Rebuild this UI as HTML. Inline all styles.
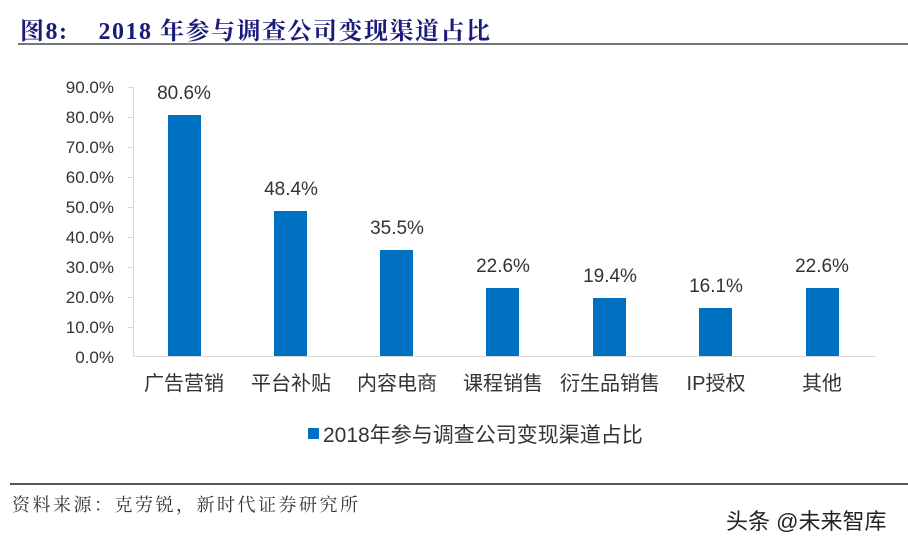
<!DOCTYPE html>
<html><head><meta charset="utf-8"><style>
body{margin:0;background:#fff;width:908px;height:545px;overflow:hidden;position:relative}
.t{position:absolute;white-space:nowrap}
</style></head><body>
<div class="t" style="left:20px;top:11px;font:bold 24px 'Liberation Serif','Noto Serif CJK SC',serif;color:#1a1a7a;letter-spacing:1.5px">图8:&nbsp;&nbsp;&nbsp; 2018 年参与调查公司变现渠道占比</div>
<div style="position:absolute;left:18px;top:43px;width:890px;height:2px;background:#777"></div>
<svg style="position:absolute;left:0;top:0" width="908" height="545" font-family="Liberation Sans, Noto Sans CJK SC, sans-serif">
<g font-size="17" fill="#333" text-anchor="end">
<text x="114" y="93">90.0%</text><text x="114" y="123">80.0%</text><text x="114" y="153">70.0%</text><text x="114" y="183">60.0%</text><text x="114" y="213">50.0%</text><text x="114" y="243">40.0%</text><text x="114" y="273">30.0%</text><text x="114" y="303">20.0%</text><text x="114" y="333">10.0%</text><text x="114" y="363">0.0%</text>
</g>
<g stroke="#d9d9d9" stroke-width="1">
<line x1="133.5" y1="87" x2="133.5" y2="356"/><line x1="133" y1="356.5" x2="876" y2="356.5"/>
<line x1="128" y1="87.5" x2="133" y2="87.5"/><line x1="128" y1="117.5" x2="133" y2="117.5"/><line x1="128" y1="147.5" x2="133" y2="147.5"/><line x1="128" y1="177.5" x2="133" y2="177.5"/><line x1="128" y1="207.5" x2="133" y2="207.5"/><line x1="128" y1="237.5" x2="133" y2="237.5"/><line x1="128" y1="267.5" x2="133" y2="267.5"/><line x1="128" y1="297.5" x2="133" y2="297.5"/><line x1="128" y1="327.5" x2="133" y2="327.5"/>
</g>
<g fill="#0070c0">
<rect x="168" y="115" width="33" height="241"/>
<rect x="274" y="211" width="33" height="145"/>
<rect x="380" y="250" width="33" height="106"/>
<rect x="486" y="288" width="33" height="68"/>
<rect x="593" y="298" width="33" height="58"/>
<rect x="699" y="308" width="33" height="48"/>
<rect x="806" y="288" width="33" height="68"/>
</g>
<g font-size="19" fill="#333" text-anchor="middle">
<text x="184" y="99">80.6%</text><text x="291" y="195">48.4%</text><text x="397" y="234">35.5%</text><text x="503" y="272">22.6%</text><text x="610" y="282">19.4%</text><text x="716" y="292">16.1%</text><text x="822" y="272">22.6%</text>
</g>
<g font-size="20" fill="#333" text-anchor="middle">
<text x="184" y="390">广告营销</text><text x="291" y="390">平台补贴</text><text x="397" y="390">内容电商</text><text x="503" y="390">课程销售</text><text x="610" y="390">衍生品销售</text><text x="716" y="390">IP授权</text><text x="822" y="390">其他</text>
</g>
<rect x="308" y="428" width="11" height="11" fill="#0070c0"/>
<text x="323" y="442" font-size="21" fill="#333">2018年参与调查公司变现渠道占比</text>
</svg>
<div style="position:absolute;left:10px;top:483px;width:898px;height:2px;background:#555"></div>
<div class="t" style="left:12px;top:491px;font:18px 'Liberation Serif','Noto Serif CJK SC',serif;color:#333;letter-spacing:2.5px">资料来源：克劳锐，新时代证券研究所</div>
<div class="t" style="left:726px;top:504px;font:22px 'Liberation Sans','Noto Sans CJK SC',sans-serif;color:#222">头条 @未来智库</div>
</body></html>
